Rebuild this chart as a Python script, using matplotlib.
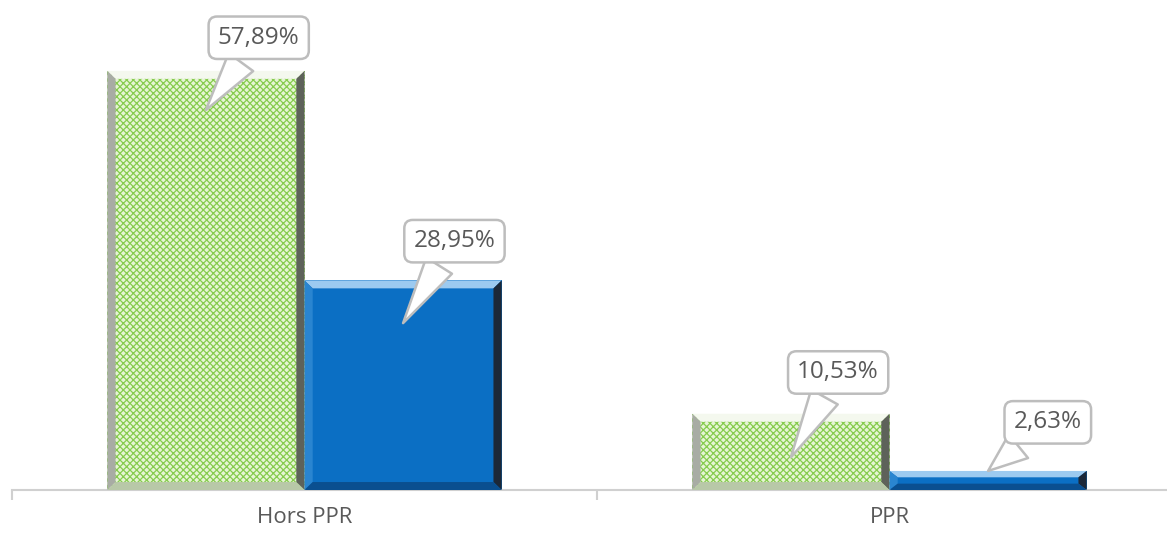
import numpy as np
import matplotlib
matplotlib.use('Agg')
import matplotlib.pyplot as plt
from matplotlib.patches import Polygon

plt.rcParams['font.family'] = ['Open Sans', 'DejaVu Sans']
plt.rcParams['hatch.linewidth'] = 0.9

categories = ['Hors PPR', 'PPR']
serie_verte = [57.89, 10.53]
serie_bleue = [28.95, 2.63]
labels_verte = ['57,89%', '10,53%']
labels_bleue = ['28,95%', '2,63%']

W, H = 1167, 534
fig = plt.figure(figsize=(W/100, H/100), dpi=100)
# axis line is at y=490 px, category 0 centre at x=305 px, 585 px per category
ax = fig.add_axes([12/W, 44/H, 1170/W, 490/H])

x = np.arange(len(categories))
w = 0.337
ymax = 490/7.24

bars_g = ax.bar(x - w/2, serie_verte, w, facecolor='#e6f5d4', edgecolor='#86cc4e',
                hatch='xxxxx', linewidth=0, zorder=2)
bars_b = ax.bar(x + w/2, serie_bleue, w, color='#0b6fc4', linewidth=0, zorder=2)

# bevel effect drawn from the bar geometry
def bevel(bar, top, left, right, bottom, bx=0.014, by=1.1):
    x0, y0 = bar.get_x(), bar.get_y()
    x1, y1 = x0 + bar.get_width(), y0 + bar.get_height()
    by = min(by, (y1 - y0) / 3)
    ax.add_patch(Polygon([(x0, y1), (x1, y1), (x1-bx, y1-by), (x0+bx, y1-by)], closed=True,
                         fc=top, ec='none', zorder=3))
    ax.add_patch(Polygon([(x0, y0), (x0, y1), (x0+bx, y1-by), (x0+bx, y0+by)], closed=True,
                         fc=left, ec='none', zorder=3))
    ax.add_patch(Polygon([(x1, y0), (x1, y1), (x1-bx, y1-by), (x1-bx, y0+by)], closed=True,
                         fc=right, ec='none', zorder=3))
    ax.add_patch(Polygon([(x0, y0), (x1, y0), (x1-bx, y0+by), (x0+bx, y0+by)], closed=True,
                         fc=bottom, ec='none', zorder=3))

for b in bars_g:
    bevel(b, '#f4f8ee', '#a8aca4', '#5e625a', '#b8c8a8')
for b in bars_b:
    bevel(b, '#9ccaf0', '#2a85d0', '#1c2838', '#0a4f90')

# callouts
def callout(xc, val, text, dip, dx, dy):
    ax.annotate(text, xy=(xc, val - dip), xytext=(dx, dy), textcoords='offset points',
                ha='center', va='center', fontsize=17.5, color='#595959', zorder=5,
                bbox=dict(boxstyle='round,pad=0.38,rounding_size=0.35', fc='white',
                          ec='#bdbdbd', lw=1.8),
                arrowprops=dict(arrowstyle='wedge,tail_width=1.25,shrink_factor=0.5',
                                fc='white', ec='#bdbdbd', lw=1.8, shrinkB=0))

callout(x[0] - w/2, serie_verte[0], labels_verte[0], 5.4, 38, 52)
callout(x[0] + w/2, serie_bleue[0], labels_bleue[0], 5.9, 37, 59)
callout(x[1] - w/2, serie_verte[1], labels_verte[1], 6.0, 34, 61)
callout(x[1] + w/2, serie_bleue[1], labels_bleue[1], 0.0, 43, 35)

ax.set_xlim(-0.5, 1.5)
ax.set_ylim(0, ymax)
ax.set_xticks(x)
ax.set_xticklabels(categories, fontsize=16, color='#595959')
ax.set_xticks([-0.5, 0.5, 1.5], minor=True)
ax.tick_params(axis='x', which='major', length=0, pad=12)
ax.tick_params(axis='x', which='minor', length=7, color='#d0d0d0', width=1.5)
ax.set_yticks([])
for s in ['top', 'left', 'right']:
    ax.spines[s].set_visible(False)
ax.spines['bottom'].set_color('#d0d0d0')
ax.spines['bottom'].set_linewidth(1.5)

fig.savefig('out.png', dpi=100)
